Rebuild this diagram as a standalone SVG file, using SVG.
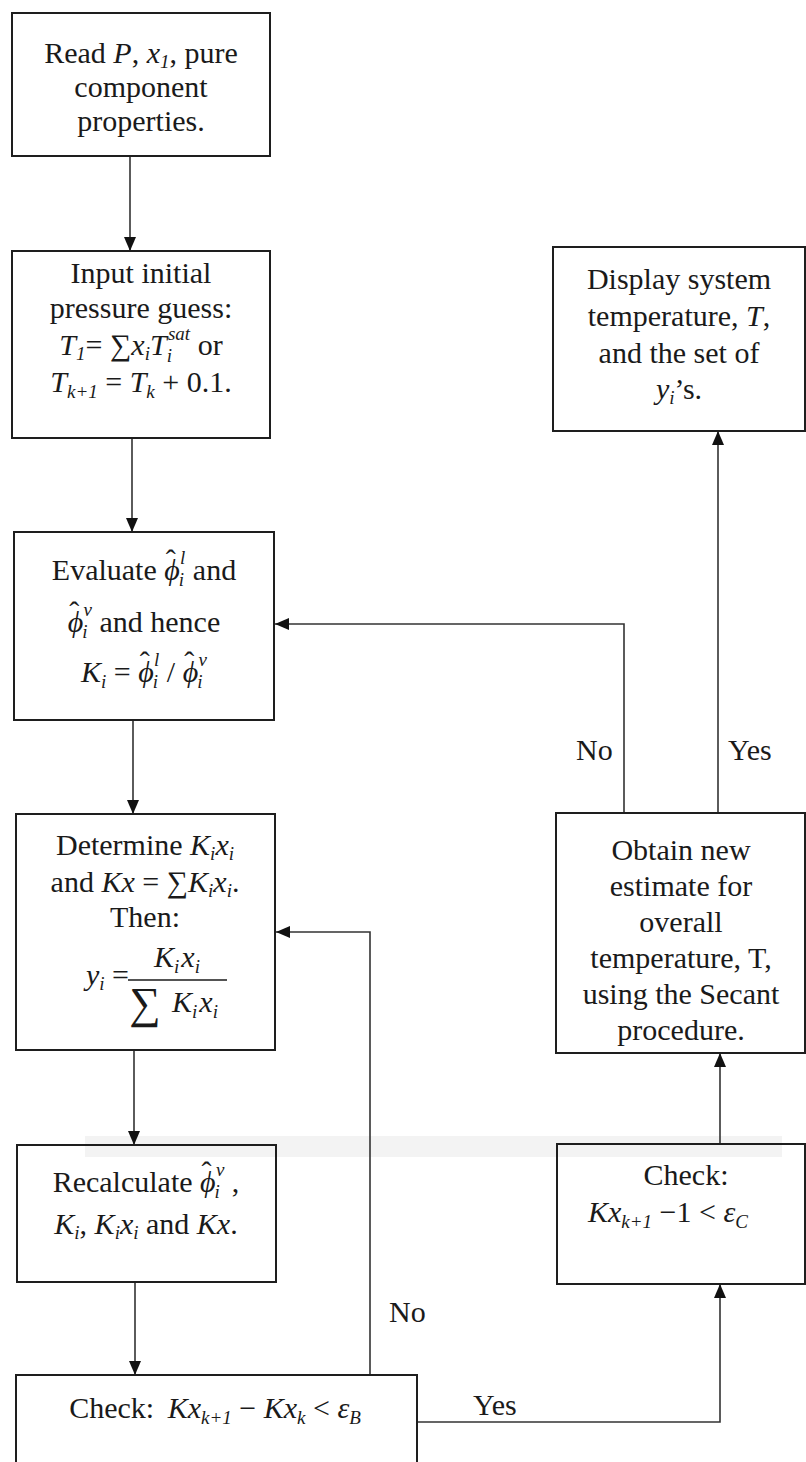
<svg xmlns="http://www.w3.org/2000/svg" width="806" height="1462" viewBox="0 0 806 1462">
<style>
.bx{fill:none;stroke:#1e1e1e;stroke-width:2}
.cn{fill:none;stroke:#333;stroke-width:1.6}
.t{font-family:"Liberation Serif","Times New Roman",serif;font-size:30px;fill:#1a1a1a;text-anchor:middle}
.i{font-style:italic}
.s{font-size:19px}
.lb{font-family:"Liberation Serif","Times New Roman",serif;font-size:30px;fill:#1a1a1a}
</style>
<defs>
<marker id="ah" markerUnits="userSpaceOnUse" markerWidth="14" markerHeight="12" refX="14" refY="6" orient="auto">
<path d="M0,0 L14,6 L0,12 z" fill="#111"/>
</marker>
</defs>
<rect width="806" height="1462" fill="#fff"/>
<rect x="85" y="1136" width="697" height="21" fill="#f3f3f3"/>

<g id="connectors">
<line class="cn" x1="130" y1="156" x2="130" y2="251" marker-end="url(#ah)"/>
<line class="cn" x1="132" y1="438" x2="132" y2="532" marker-end="url(#ah)"/>
<line class="cn" x1="133" y1="720" x2="133" y2="814" marker-end="url(#ah)"/>
<line class="cn" x1="134" y1="1050" x2="134" y2="1145" marker-end="url(#ah)"/>
<line class="cn" x1="135" y1="1282" x2="135" y2="1375" marker-end="url(#ah)"/>
<polyline class="cn" points="370,1375 370,932 276,932" marker-end="url(#ah)"/>
<polyline class="cn" points="417,1422 720,1422 720,1284" marker-end="url(#ah)"/>
<line class="cn" x1="720" y1="1144" x2="720" y2="1053" marker-end="url(#ah)"/>
<polyline class="cn" points="624,813 624,624 275,624" marker-end="url(#ah)"/>
<line class="cn" x1="718" y1="813" x2="718" y2="431" marker-end="url(#ah)"/>
<text class="lb" x="576" y="760">No</text>
<text class="lb" x="728" y="760">Yes</text>
<text class="lb" x="389" y="1322">No</text>
<text class="lb" x="473" y="1415">Yes</text>
</g>

<g id="n1">
<rect class="bx" x="12" y="13" width="258" height="143"/>
<text class="t" x="141" y="63">Read <tspan class="i">P</tspan>, <tspan class="i">x</tspan><tspan class="i s" dy="5">1</tspan><tspan dy="-5">, pure</tspan></text>
<text class="t" x="141" y="97">component</text>
<text class="t" x="141" y="131">properties.</text>
</g>

<g id="n2">
<rect class="bx" x="12" y="251" width="258" height="187"/>
<text class="t" x="141" y="283">Input initial</text>
<text class="t" x="141" y="318">pressure guess:</text>
<text class="t" x="141" y="355"><tspan class="i">T</tspan><tspan class="i s" dy="5">1</tspan><tspan dy="-5">= ∑</tspan><tspan class="i">x</tspan><tspan class="i s" dy="5">i</tspan><tspan class="i" dy="-5">T</tspan><tspan class="i s" dy="7">i</tspan><tspan class="i s" dx="-4" dy="-22">sat</tspan><tspan dy="15"> or</tspan></text>
<text class="t" x="141" y="392"><tspan class="i">T</tspan><tspan class="i s" dy="6">k+1</tspan><tspan dy="-6"> = </tspan><tspan class="i">T</tspan><tspan class="i s" dy="6">k</tspan><tspan dy="-6"> + 0.1.</tspan></text>
</g>

<g id="n3">
<rect class="bx" x="14" y="532" width="260" height="188"/>
<text class="t" x="144" y="580">Evaluate <tspan class="i">ϕ</tspan><tspan dx="-14" dy="-10">ˆ</tspan><tspan class="i s" dx="3" dy="16">i</tspan><tspan class="i s" dx="-4" dy="-22">l</tspan><tspan dy="16"> and</tspan></text>
<text class="t" x="144" y="632"><tspan class="i">ϕ</tspan><tspan dx="-14" dy="-10">ˆ</tspan><tspan class="i s" dx="3" dy="16">i</tspan><tspan class="i s" dx="-4" dy="-22">v</tspan><tspan dy="16"> and hence</tspan></text>
<text class="t" x="144" y="682"><tspan class="i">K</tspan><tspan class="i s" dy="6">i</tspan><tspan dy="-6"> = </tspan><tspan class="i">ϕ</tspan><tspan dx="-14" dy="-10">ˆ</tspan><tspan class="i s" dx="3" dy="16">i</tspan><tspan class="i s" dx="-4" dy="-22">l</tspan><tspan dy="16"> / </tspan><tspan class="i">ϕ</tspan><tspan dx="-14" dy="-10">ˆ</tspan><tspan class="i s" dx="3" dy="16">i</tspan><tspan class="i s" dx="-4" dy="-22">v</tspan></text>
</g>

<g id="n4">
<rect class="bx" x="16" y="814" width="259" height="236"/>
<text class="t" x="145" y="855">Determine <tspan class="i">K</tspan><tspan class="i s" dy="5">i</tspan><tspan class="i" dy="-5">x</tspan><tspan class="i s" dy="5">i</tspan></text>
<text class="t" x="145" y="892">and <tspan class="i">Kx</tspan> = ∑<tspan class="i">K</tspan><tspan class="i s" dy="5">i</tspan><tspan class="i" dy="-5">x</tspan><tspan class="i s" dy="5">i</tspan><tspan dy="-5">.</tspan></text>
<text class="t" x="145" y="927">Then:</text>
<text class="t" x="86" y="985" style="text-anchor:start"><tspan class="i">y</tspan><tspan class="i s" dy="5">i</tspan><tspan dy="-5"> =</tspan></text>
<text class="t" x="177" y="967"><tspan class="i">K</tspan><tspan class="i s" dy="6">i</tspan><tspan class="i" dy="-6" dx="2">x</tspan><tspan class="i s" dy="6">i</tspan></text>
<line x1="128" y1="980" x2="227" y2="980" stroke="#1a1a1a" stroke-width="1.5"/>
<text class="t" x="145" y="1018" style="font-size:44px">∑</text>
<text class="t" x="195" y="1012"><tspan class="i">K</tspan><tspan class="i s" dy="6">i</tspan><tspan class="i" dy="-6" dx="2">x</tspan><tspan class="i s" dy="6">i</tspan></text>
</g>

<g id="n5">
<rect class="bx" x="17" y="1145" width="259" height="137"/>
<text class="t" x="146" y="1192">Recalculate <tspan class="i">ϕ</tspan><tspan dx="-14" dy="-10">ˆ</tspan><tspan class="i s" dx="3" dy="16">i</tspan><tspan class="i s" dx="-4" dy="-22">v</tspan><tspan dy="16"> ,</tspan></text>
<text class="t" x="146" y="1234"><tspan class="i">K</tspan><tspan class="i s" dy="5">i</tspan><tspan dy="-5">, </tspan><tspan class="i">K</tspan><tspan class="i s" dy="5">i</tspan><tspan class="i" dy="-5">x</tspan><tspan class="i s" dy="5">i</tspan><tspan dy="-5"> and </tspan><tspan class="i">Kx</tspan>.</text>
</g>

<g id="n6">
<rect class="bx" x="16" y="1375" width="401" height="100"/>
<text class="t" x="215" y="1418">Check: <tspan class="i" dx="6">Kx</tspan><tspan class="i s" dy="6">k+1</tspan><tspan dy="-6"> − </tspan><tspan class="i">Kx</tspan><tspan class="i s" dy="6">k</tspan><tspan dy="-6"> &lt; </tspan><tspan class="i">ε</tspan><tspan class="i s" dy="6">B</tspan></text>
</g>

<g id="n7">
<rect class="bx" x="553" y="247" width="252" height="184"/>
<text class="t" x="679" y="289">Display system</text>
<text class="t" x="679" y="326">temperature, <tspan class="i">T</tspan>,</text>
<text class="t" x="679" y="363">and the set of</text>
<text class="t" x="679" y="399"><tspan class="i">y</tspan><tspan class="i s" dy="5">i</tspan><tspan dy="-5">’s.</tspan></text>
</g>

<g id="n8">
<rect class="bx" x="556" y="813" width="249" height="240"/>
<text class="t" x="681" y="860">Obtain new</text>
<text class="t" x="681" y="896">estimate for</text>
<text class="t" x="681" y="932">overall</text>
<text class="t" x="681" y="968">temperature, T,</text>
<text class="t" x="681" y="1004">using the Secant</text>
<text class="t" x="681" y="1040">procedure.</text>
</g>

<g id="n9">
<rect class="bx" x="557" y="1144" width="248" height="140"/>
<text class="t" x="686" y="1185">Check:</text>
<text class="t" x="668" y="1222"><tspan class="i">Kx</tspan><tspan class="i s" dy="6">k+1</tspan><tspan dy="-6"> −1 &lt; </tspan><tspan class="i">ε</tspan><tspan class="i s" dy="6">C</tspan></text>
</g>
</svg>
